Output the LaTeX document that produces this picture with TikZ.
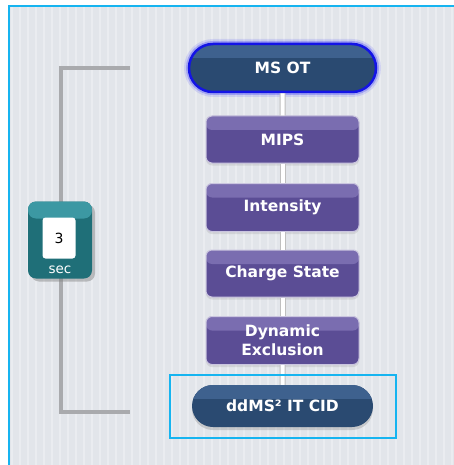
\documentclass[tikz,border=0pt]{standalone}
\usepackage{fontspec}
\setmainfont{DejaVu Sans}
\usetikzlibrary{shapes.misc,shadows}

\definecolor{frameblue}{HTML}{16B4F0}
\definecolor{panelbg}{HTML}{E2E5EA}
\definecolor{bracketgray}{HTML}{A9AAAD}
\definecolor{pilldark}{HTML}{2A4A71}
\definecolor{pilltop}{HTML}{3E618E}
\definecolor{stepviolet}{HTML}{5B4D95}
\definecolor{stepvioletTop}{HTML}{7A6DB0}
\definecolor{timerteal}{HTML}{1F6F78}
\definecolor{timertop}{HTML}{3C98A3}

\tikzset{
  labelfont/.style={font=\bfseries\fontsize{15.5}{19}\selectfont},
  stepbox/.style={rectangle, rounded corners=6pt, minimum width=153pt,
    minimum height=47pt, fill=stepviolet, draw=stepvioletTop!40!white,
    line width=1pt, text=white, labelfont, align=center, inner sep=0pt,
    drop shadow={opacity=0.18, shadow xshift=0pt, shadow yshift=-2.5pt},
    path picture={\fill[stepvioletTop] (path picture bounding box.north west)
      rectangle ([yshift=-14pt]path picture bounding box.north east);}},
  pillbox/.style={rounded rectangle, minimum width=#1, fill=pilldark,
    text=white, labelfont, inner sep=0pt,
    path picture={\fill[pilltop] (path picture bounding box.north west)
      rectangle ([yshift=-14pt]path picture bounding box.north east);}},
  link/.style={white, line width=4pt,
    preaction={draw=black!25, line width=6pt}},
}

\begin{document}
\begin{tikzpicture}[x=1pt, y=-1pt]
  % page and panel
  \fill[white] (0,0) rectangle (454,465);
  \useasboundingbox (0,0) rectangle (454,465);
  \fill[panelbg] (9,6) rectangle (454,465);
  \foreach \sx in {12,20,...,452}
    \draw[white, opacity=0.3, line width=2pt] (\sx,7) -- (\sx,465);
  \draw[frameblue, line width=2.5pt] (454,6) -- (9,6) -- (9,465);

  % loop bracket
  \coordinate (brTop) at (130,68);
  \coordinate (brBot) at (130,412);
  \draw[bracketgray, line width=4pt] (brTop) -- ++(-69,0) |- (brBot);

  % repeat timer
  \node[rectangle, rounded corners=8pt, minimum width=64pt, minimum height=77pt,
        fill=timerteal, inner sep=0pt,
        drop shadow={opacity=0.45, shadow xshift=3pt, shadow yshift=-3pt},
        path picture={\fill[timertop] (path picture bounding box.north west)
          rectangle ([yshift=-17pt]path picture bounding box.north east);}]
        (timer) at (60,240) {};
  \node[rectangle, rounded corners=3pt, minimum width=33pt, minimum height=41pt,
        fill=white, inner sep=0pt, font=\fontsize{14}{16}\selectfont]
        (secs) at (59,238) {3};
  \node[text=white, font=\fontsize{13.5}{15}\selectfont, inner sep=0pt]
        (unit) at (60,270) {sec};

  % method steps, all on one vertical axis
  \def\axisx{282.5}
  \node[pillbox=187pt, minimum height=48pt,
        preaction={draw=blue, line width=10pt, opacity=0.10},
        preaction={draw=blue, line width=6pt, opacity=0.22},
        draw={rgb,255:red,20;green,20;blue,230}, line width=2.5pt]
        (msot) at (\axisx,68) {MS OT};
  \node[stepbox] (mips) at (\axisx,139.5) {MIPS};
  \node[stepbox, minimum height=48pt] (inten) at (\axisx,207.5) {Intensity};
  \node[stepbox] (charge) at (\axisx,273.5) {Charge State};
  \node[stepbox, minimum height=48pt] (dynex) at (\axisx,340.5) {Dynamic\\Exclusion};
  \node[pillbox=181pt, minimum height=42pt,
        drop shadow={opacity=0.3, shadow xshift=0pt, shadow yshift=-3pt}]
        (ddms) at (\axisx,406) {ddMS² IT CID};

  % links between steps
  \draw[link] (msot) -- (mips);
  \draw[link] (mips) -- (inten);
  \draw[link] (inten) -- (charge);
  \draw[link] (charge) -- (dynex);
  \draw[link] (dynex) -- (ddms);

  % highlight around the last step
  \node[draw=frameblue, line width=2.5pt, minimum width=226pt,
        minimum height=63pt, inner sep=0pt] (focus) at (283,406.5) {};
\end{tikzpicture}
\end{document}
